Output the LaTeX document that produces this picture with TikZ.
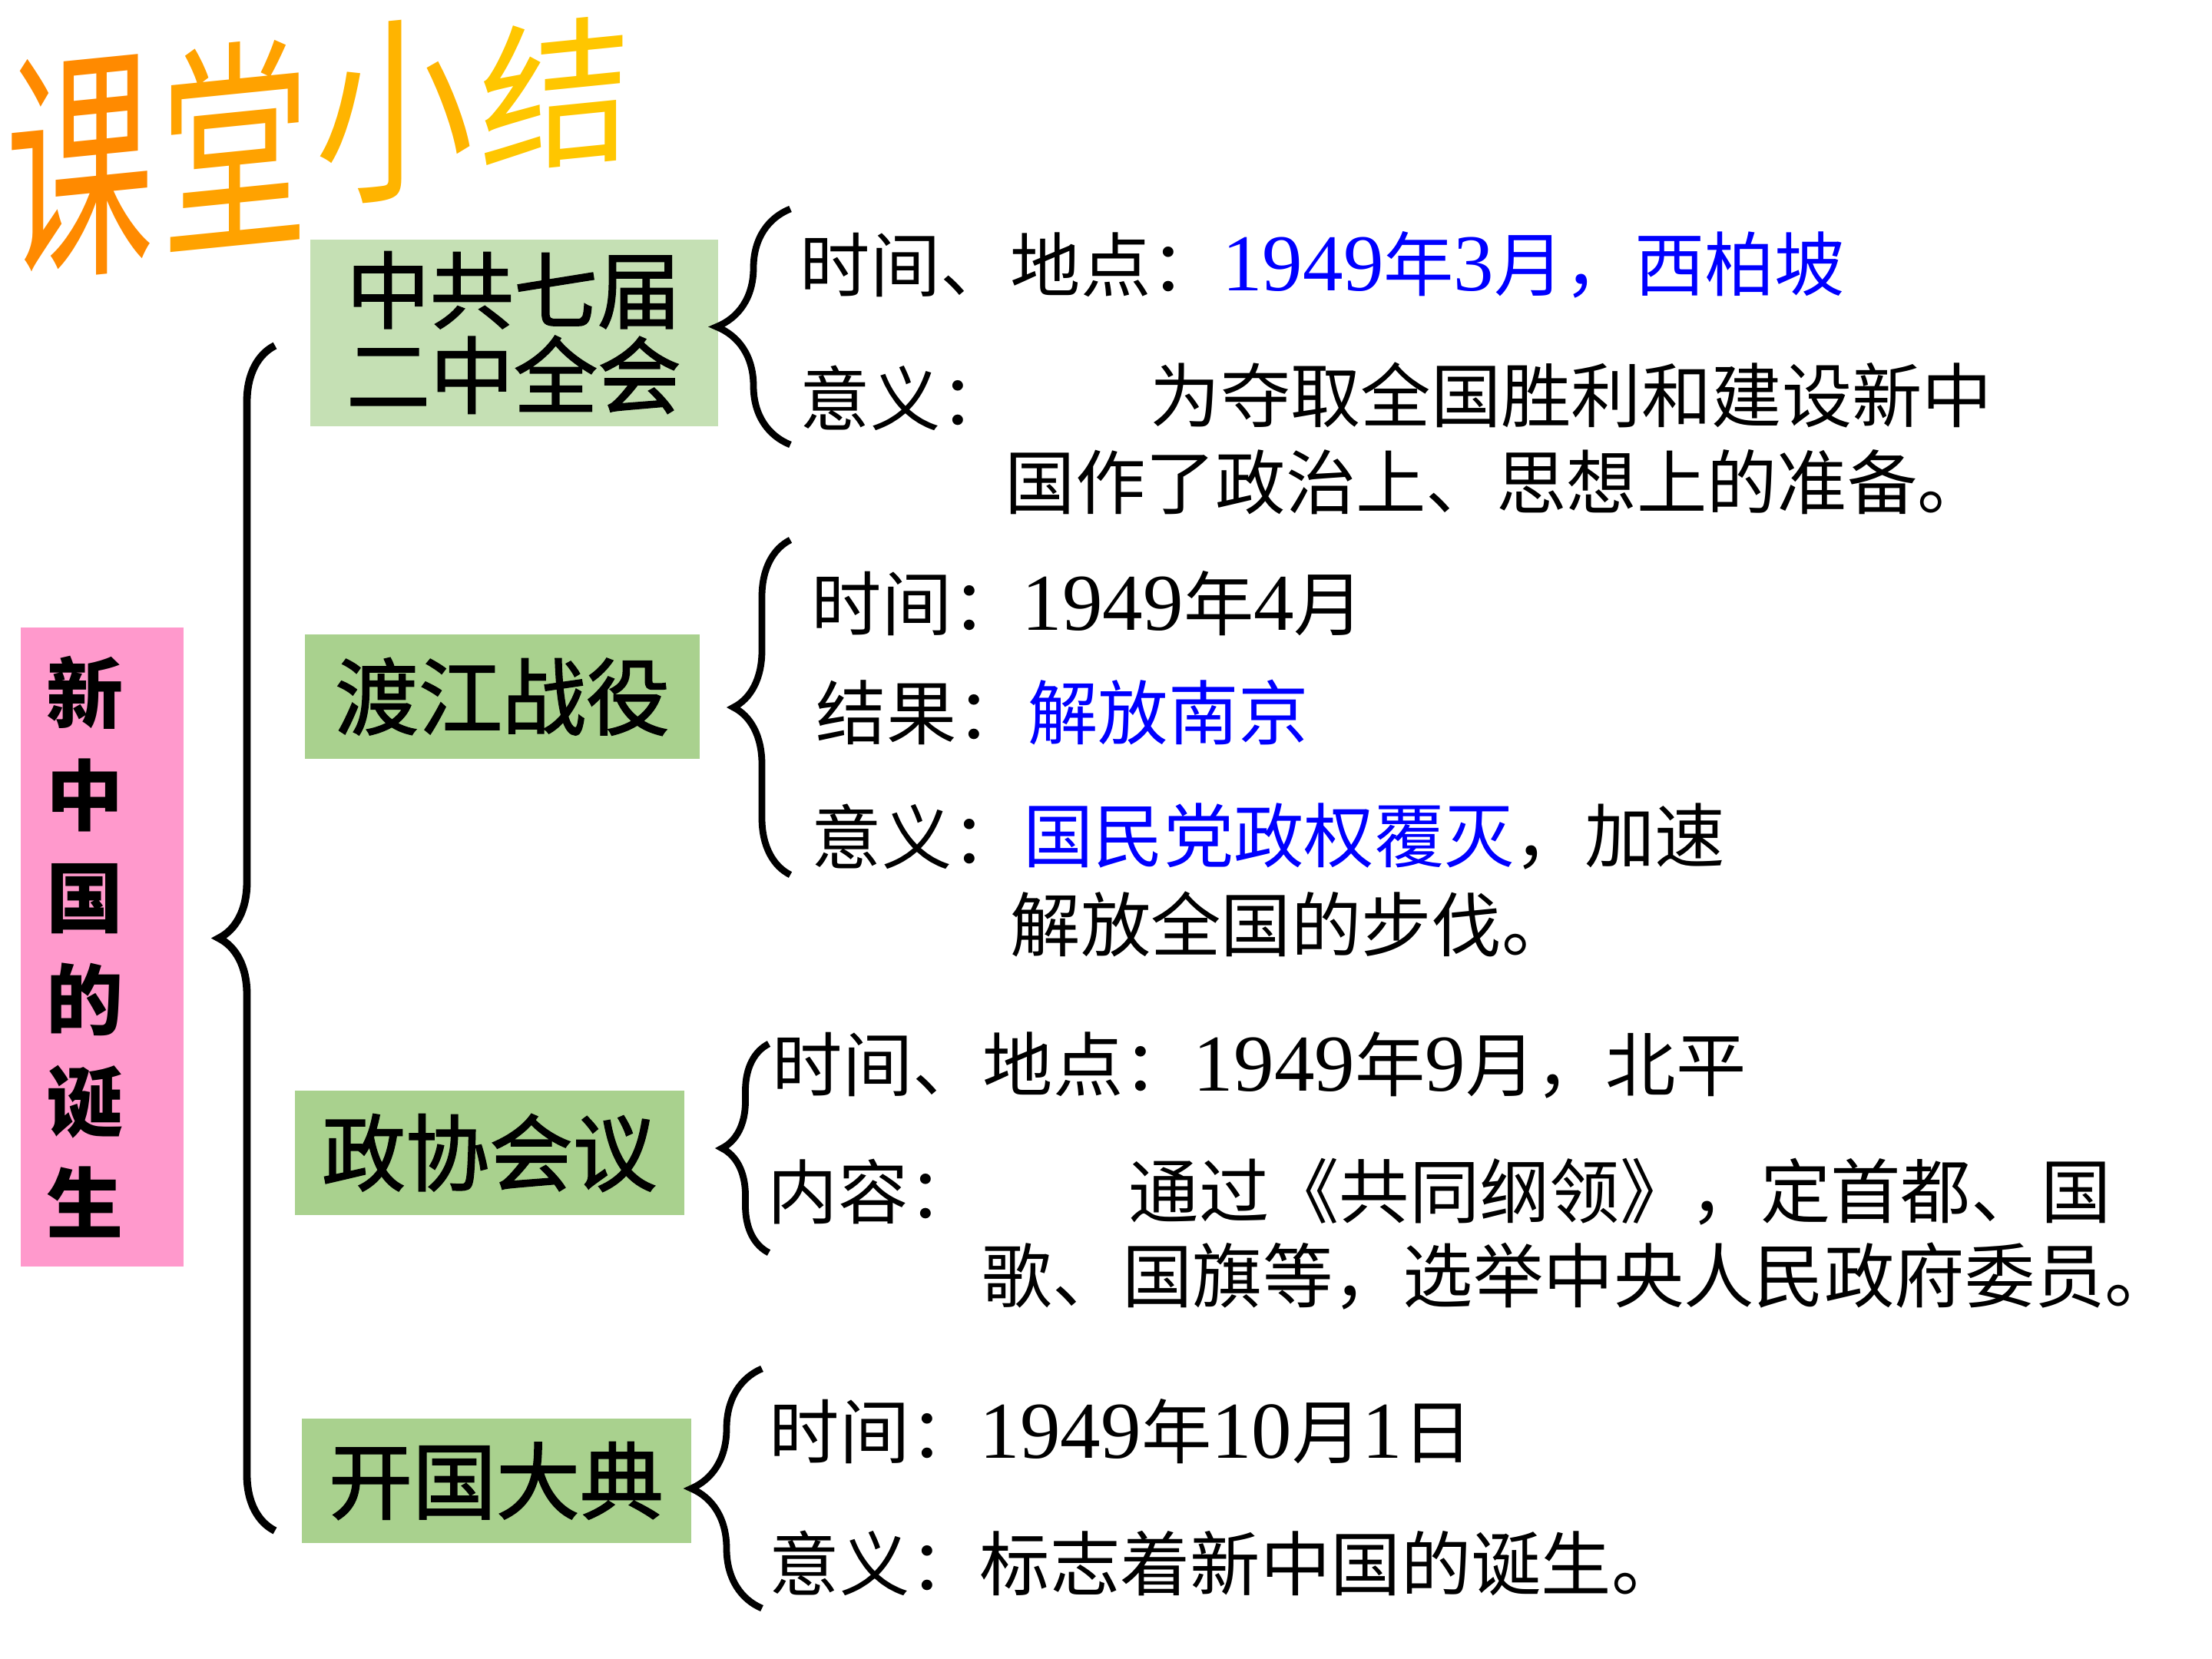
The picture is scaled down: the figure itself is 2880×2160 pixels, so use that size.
\documentclass[tikz,border=0pt]{standalone}
\usepackage{fontspec}
\usepackage{xcolor}
\usepackage{tikz}
\usetikzlibrary{positioning, decorations.pathreplacing}
\setmainfont{Noto Sans CJK SC}
\newfontfamily\numfont[Scale=1.15]{Liberation Serif}
\newfontfamily\boxfont[FakeBold=1.6]{Noto Sans CJK SC}
\definecolor{cRoot}{HTML}{FF99CC}
\definecolor{cLeaf}{HTML}{A9D18E}
\definecolor{cLeafLt}{HTML}{C5E0B4}
\definecolor{cKey}{HTML}{0000FF}
\definecolor{cT1}{HTML}{FF8A00}
\definecolor{cT2}{HTML}{FFA200}
\definecolor{cT3}{HTML}{FFB400}
\definecolor{cT4}{HTML}{FFC600}
\tikzset{
  titlech/.style={inner sep=0pt, yslant=0.1},
  topic/.style={rectangle, fill=cLeaf, inner sep=0pt, align=center,
    font=\fontsize{31}{31.5}\selectfont\boxfont, minimum width=51mm, minimum height=16.2mm},
  item/.style={anchor=west, inner sep=0pt, font=\fontsize{26}{28}\selectfont},
  curly/.style={decorate, decoration={brace, amplitude=#1}, line width=2.5pt},
}
\newcommand{\nm}[1]{{\numfont #1}}
\newcommand{\key}[1]{\textcolor{cKey}{#1}}

\begin{document}
\begin{tikzpicture}[x=0.1mm, y=-0.1mm]
\useasboundingbox (0,0) rectangle (2880,2160);
% title
\node[titlech, text=cT1, xscale=0.6, font=\fontsize{91.6}{92}\selectfont] (ttl1) at (104,215) {课};
\node[titlech, text=cT2, xscale=0.65, font=\fontsize{84.5}{85}\selectfont] (ttl2) at (306,188) {堂};
\node[titlech, text=cT3, xscale=0.8, font=\fontsize{73.4}{74}\selectfont] (ttl3) at (514,144) {小};
\node[titlech, text=cT4, xscale=0.95, font=\fontsize{59.2}{60}\selectfont] (ttl4) at (723,122) {结};
% root and topics
\node[rectangle, fill=cRoot, inner xsep=3.3mm, inner ysep=0pt, text width=14.6mm, minimum height=83.2mm,
  align=left, font=\fontsize{28.5}{37.8}\selectfont\bfseries] (root) at (133,1233) {新\\中\\国\\的\\诞\\生};
\node[topic, fill=cLeafLt, minimum width=53.1mm, minimum height=24.3mm] (plen) at (669,433) {中共七届\\二中全会};
\node[topic, minimum width=51.4mm] (river) at (654,907) {渡江战役};
\node[topic, minimum width=50.7mm] (cppcc) at (637,1501) {政协会议};
\node[topic, minimum width=50.7mm] (found) at (646,1928) {开国大典};
% braces
\coordinate (rtop) at (358,450); \coordinate (rbot) at (358,1993);
\draw[curly=7.3mm, line width=2.8pt] (rbot) -- (rtop);
\coordinate (g1top) at (1029,272); \coordinate (g1bot) at (1029,579);
\coordinate (g2top) at (1029,703); \coordinate (g2bot) at (1029,1139);
\coordinate (g3top) at (1001,1359); \coordinate (g3bot) at (1001,1631);
\coordinate (g4top) at (992,1782); \coordinate (g4bot) at (992,2094);
\draw[curly=9.6mm] (g1bot) -- (g1top);
\draw[curly=7.4mm] (g2bot) -- (g2top);
\draw[curly=6.1mm] (g3bot) -- (g3top);
\draw[curly=9.2mm] (g4bot) -- (g4top);
% group 1
\node[item] (p1a) at (1041,345) {时间、地点：};
\node[item, right=0pt of p1a] (p1b) {\key{\nm{1949}年\nm{3}月，西柏坡}};
\node[item] (p2a) at (1041,518) {意义：};
\node[item] (p2b) at (1497,514) {为夺取全国胜利和建设新中};
\node[item] (p2c) at (1308,628) {国作了政治上、思想上的准备。};
% group 2
\node[item] (r1) at (1056,786) {时间：\nm{1949}年\nm{4}月};
\node[item] (r2a) at (1062,928) {结果：};
\node[item, right=0pt of r2a] (r2b) {\key{解放南京}};
\node[item] (r3a) at (1056,1089) {意义：};
\node[item, right=0pt of r3a] (r3b) {\key{国民党政权覆灭}，加速};
\node[item] (r3c) at (1315,1203) {解放全国的步伐。};
% group 3
\node[item] (c1) at (1005,1387) {时间、地点：\nm{1949}年\nm{9}月，北平};
\node[item] (c2a) at (999,1552) {内容：};
\node[item] (c2b) at (1469,1552) {通过《共同纲领》，定首都、国};
\node[item] (c2c) at (1278,1662) {歌、国旗等，选举中央人民政府委员。};
% group 4
\node[item] (f1) at (1001,1864) {时间：\nm{1949}年\nm{10}月\nm{1}日};
\node[item] (f2) at (1001,2035) {意义：标志着新中国的诞生。};
\end{tikzpicture}
\end{document}
